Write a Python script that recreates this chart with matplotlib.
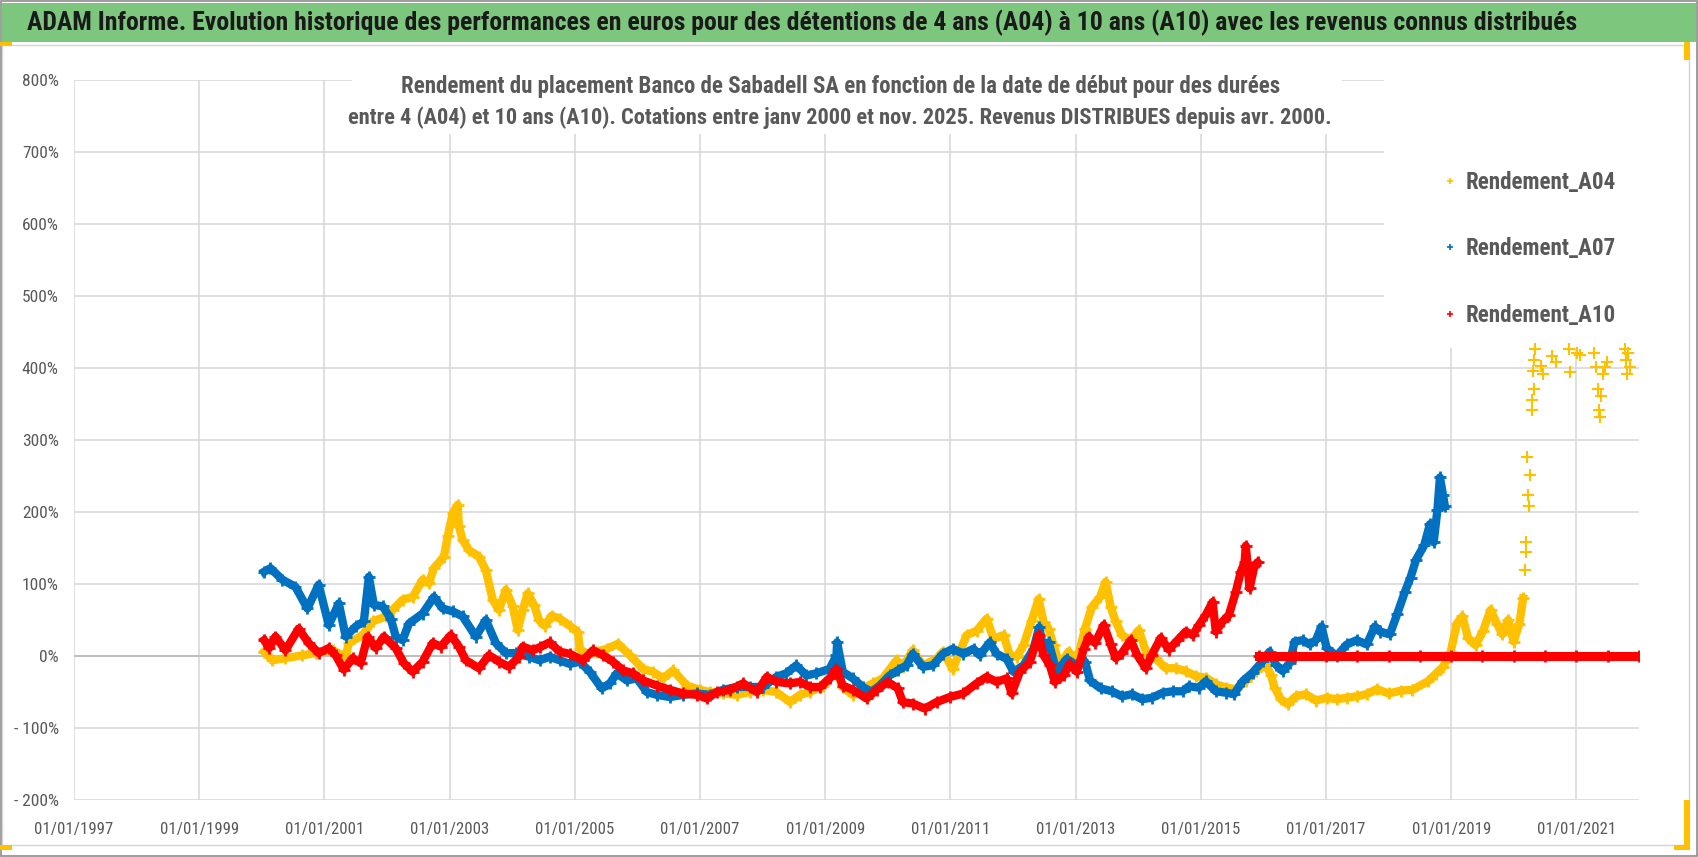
import numpy as np
import pandas as pd
import matplotlib
matplotlib.use('Agg')
import matplotlib.pyplot as plt
import matplotlib.dates as mdates
from matplotlib import font_manager
from matplotlib.patches import Rectangle
from matplotlib.lines import Line2D

# narrowest font we can find (the original uses Calibri)
installed = {f.name for f in font_manager.fontManager.ttflist}
for name in ['Liberation Sans Narrow', 'DejaVu Sans Condensed', 'Roboto Condensed', 'Open Sans Condensed',
             'Liberation Sans', 'DejaVu Sans']:
    if name in installed:
        break
plt.rcParams['font.family'] = [name, 'DejaVu Sans']

# ---- data (decimal year of start date, return in %) ----
a04_year = [2000.04, 2000.17, 2000.38, 2000.65, 2000.86, 2001.13, 2001.34, 2001.39, 2001.61, 2001.77,
            2001.98, 2002.09, 2002.25, 2002.41, 2002.57, 2002.67, 2002.75, 2002.91, 2002.97, 2003.05,
            2003.13, 2003.15, 2003.21, 2003.31, 2003.47, 2003.58, 2003.69, 2003.79, 2003.90, 2004.01,
            2004.09, 2004.17, 2004.25, 2004.35, 2004.43, 2004.52, 2004.63, 2004.76, 2004.92, 2005.05,
            2005.08, 2005.21, 2005.35, 2005.51, 2005.69, 2005.88, 2006.09, 2006.25, 2006.41, 2006.57,
            2006.79, 2007.00, 2007.16, 2007.37, 2007.59, 2007.80, 2008.01, 2008.22, 2008.44, 2008.60,
            2008.76, 2008.96, 2009.18, 2009.28, 2009.44, 2009.60, 2009.76, 2009.92, 2010.14, 2010.24,
            2010.40, 2010.56, 2010.78, 2010.88, 2011.04, 2011.26, 2011.42, 2011.58, 2011.69, 2011.85,
            2011.95, 2012.06, 2012.17, 2012.30, 2012.41, 2012.49, 2012.57, 2012.65, 2012.75, 2012.89,
            2013.02, 2013.15, 2013.26, 2013.39, 2013.48, 2013.56, 2013.64, 2013.74, 2013.88, 2014.01,
            2014.14, 2014.28, 2014.44, 2014.60, 2014.76, 2014.92, 2015.08, 2015.24, 2015.40, 2015.56,
            2015.72, 2015.88, 2016.04, 2016.12, 2016.18, 2016.28, 2016.39, 2016.52, 2016.68, 2016.84,
            2017.01, 2017.17, 2017.33, 2017.49, 2017.65, 2017.81, 2018.00, 2018.20, 2018.38, 2018.63,
            2018.75, 2018.87, 2018.99, 2019.09, 2019.18, 2019.27, 2019.39, 2019.51, 2019.63, 2019.73,
            2019.82, 2019.91, 2020.00, 2020.09, 2020.15]
a04_val = [6, -6, -3, 1, 4, 8, -1, 18, 29, 48,
           55, 64, 78, 82, 106, 101, 122, 138, 166, 198,
           210, 180, 161, 147, 138, 119, 78, 64, 92, 69,
           36, 64, 87, 71, 50, 42, 56, 52, 42, 33,
           10, 1, 6, 10, 17, 1, -18, -22, -31, -20,
           -41, -47, -50, -52, -54, -50, -47, -50, -64, -54,
           -50, -41, -22, -43, -54, -45, -38, -31, -6, -15,
           8, -13, -4, 6, -18, 29, 35, 52, 24, 29,
           1, -1, 15, 49, 79, 47, 38, 15, -13, 6,
           -8, 38, 68, 82, 103, 68, 48, 29, 22, 36,
           2, -3, -17, -17, -21, -28, -30, -39, -44, -46,
           -35, -21, -12, -26, -44, -60, -67, -56, -53, -62,
           -58, -60, -58, -56, -53, -46, -52, -48, -47, -35,
           -25, -15, 5, 45, 55, 25, 15, 35, 64, 45,
           30, 50, 20, 45, 80]

# isolated quotes of the last A04 start dates
a04_tail_year = [2020.18, 2020.20, 2020.20, 2020.21, 2020.23, 2020.24, 2020.26, 2020.29, 2020.30, 2020.31,
                 2020.32, 2020.32, 2020.34, 2020.43, 2020.46, 2020.61, 2020.67, 2020.88, 2020.90, 2021.01,
                 2021.05, 2021.28, 2021.31, 2021.34, 2021.36, 2021.37, 2021.40, 2021.43, 2021.46, 2021.49,
                 2021.77, 2021.79, 2021.81, 2021.83, 2021.86]
a04_tail_val = [119, 144, 158, 277, 223, 208, 252, 342, 356, 396,
                371, 411, 426, 403, 391, 416, 408, 426, 394, 421,
                418, 421, 401, 371, 342, 332, 361, 391, 401, 408,
                426, 411, 391, 421, 401]

a07_year = [2000.04, 2000.14, 2000.33, 2000.54, 2000.73, 2000.91, 2001.07, 2001.23, 2001.34, 2001.50,
            2001.63, 2001.71, 2001.79, 2001.93, 2002.06, 2002.14, 2002.25, 2002.35, 2002.57, 2002.75,
            2002.89, 2003.05, 2003.21, 2003.42, 2003.58, 2003.74, 2003.90, 2004.06, 2004.27, 2004.44,
            2004.60, 2004.76, 2004.92, 2005.08, 2005.24, 2005.43, 2005.56, 2005.67, 2005.83, 2005.99,
            2006.15, 2006.31, 2006.52, 2006.73, 2006.95, 2007.16, 2007.37, 2007.59, 2007.80, 2008.01,
            2008.22, 2008.38, 2008.54, 2008.70, 2008.86, 2009.07, 2009.18, 2009.19, 2009.28, 2009.44,
            2009.60, 2009.74, 2009.87, 2010.03, 2010.16, 2010.30, 2010.40, 2010.56, 2010.72, 2010.88,
            2011.04, 2011.21, 2011.37, 2011.47, 2011.63, 2011.74, 2011.90, 2012.01, 2012.17, 2012.33,
            2012.42, 2012.49, 2012.57, 2012.70, 2012.86, 2013.02, 2013.15, 2013.23, 2013.40, 2013.58,
            2013.74, 2013.90, 2014.06, 2014.22, 2014.39, 2014.55, 2014.71, 2014.81, 2014.97, 2015.08,
            2015.24, 2015.40, 2015.53, 2015.67, 2015.83, 2015.99, 2016.10, 2016.20, 2016.31, 2016.42,
            2016.50, 2016.63, 2016.74, 2016.84, 2016.93, 2017.01, 2017.17, 2017.33, 2017.49, 2017.65,
            2017.78, 2017.86, 2018.02, 2018.14, 2018.26, 2018.35, 2018.44, 2018.57, 2018.66, 2018.72,
            2018.78, 2018.82, 2018.87, 2018.90]
a07_val = [117, 122, 106, 96, 66, 99, 43, 73, 27, 41,
           48, 110, 71, 69, 52, 27, 22, 45, 59, 82,
           66, 62, 55, 27, 50, 18, 4, 4, -1, -6,
           -1, -6, -11, -8, -22, -45, -38, -24, -34, -31,
           -50, -54, -57, -54, -52, -54, -47, -43, -43, -43,
           -29, -24, -13, -27, -24, -18, 1, 19, -22, -31,
           -43, -50, -41, -27, -20, -13, 3, -15, -13, 3,
           10, 3, 10, 1, 19, 3, -4, -22, -13, 10,
           40, 10, 19, -22, -4, -13, -8, -34, -45, -49,
           -56, -53, -60, -58, -51, -49, -49, -42, -44, -35,
           -49, -51, -53, -35, -23, -7, 6, -12, -21, -10,
           20, 22, 16, 22, 41, 11, 0, 16, 22, 16,
           41, 34, 30, 59, 89, 109, 134, 154, 183, 158,
           203, 248, 223, 208]

a10_year = [2000.04, 2000.12, 2000.22, 2000.38, 2000.59, 2000.75, 2000.91, 2001.07, 2001.18, 2001.31,
            2001.45, 2001.58, 2001.69, 2001.82, 2001.95, 2002.14, 2002.27, 2002.41, 2002.57, 2002.73,
            2002.86, 2003.02, 2003.15, 2003.26, 2003.47, 2003.63, 2003.79, 2003.95, 2004.11, 2004.17,
            2004.33, 2004.44, 2004.60, 2004.76, 2004.92, 2005.13, 2005.29, 2005.45, 2005.61, 2005.77,
            2005.93, 2006.09, 2006.31, 2006.52, 2006.73, 2006.95, 2007.11, 2007.27, 2007.48, 2007.69,
            2007.91, 2008.07, 2008.22, 2008.44, 2008.60, 2008.76, 2008.92, 2009.07, 2009.18, 2009.28,
            2009.44, 2009.66, 2009.82, 2010.00, 2010.16, 2010.24, 2010.40, 2010.59, 2010.78, 2010.99,
            2011.21, 2011.42, 2011.58, 2011.74, 2011.90, 2011.98, 2012.11, 2012.27, 2012.41, 2012.49,
            2012.59, 2012.67, 2012.81, 2012.91, 2013.02, 2013.13, 2013.21, 2013.31, 2013.45, 2013.56,
            2013.64, 2013.74, 2013.88, 2013.98, 2014.12, 2014.22, 2014.36, 2014.49, 2014.63, 2014.76,
            2014.87, 2014.97, 2015.08, 2015.19, 2015.24, 2015.35, 2015.45, 2015.56, 2015.64, 2015.70,
            2015.72, 2015.78, 2015.86, 2015.91]
a10_val = [22, 11, 27, 8, 38, 18, 4, 11, 1, -19,
           -3, -10, 27, 11, 27, 11, -10, -22, -8, 18,
           13, 29, 13, -6, -17, 1, -8, -15, -1, 13,
           8, 12, 19, 6, 3, -6, 8, 1, -8, -20,
           -24, -34, -41, -47, -52, -54, -59, -50, -47, -38,
           -50, -29, -36, -38, -36, -43, -43, -31, -18, -41,
           -47, -59, -47, -36, -45, -64, -66, -73, -64, -57,
           -52, -38, -29, -36, -31, -52, -22, -8, 29, 1,
           -13, -36, -27, -11, -22, 10, 27, 18, 43, 16,
           -3, 4, 22, 2, -17, 2, 25, 9, 22, 34,
           29, 43, 57, 75, 34, 48, 57, 89, 117, 130,
           153, 94, 126, 130]

# A10 shows 0 for start dates with no 10-year horizon yet
a10_zero_year = [2015.93, 2016.5, 2017.0, 2017.5, 2018.0, 2018.5, 2019.0, 2019.5, 2020.0, 2020.5, 2021.0, 2021.5, 2022.0]
a10_zero_val = [0] * len(a10_zero_year)

y_ticks = [800, 700, 600, 500, 400, 300, 200, 100, 0, -100, -200]
y_labels = ['800%', '700%', '600%', '500%', '400%', '300%', '200%', '100%', '0%', '- 100%', '- 200%']
x_tick_years = list(range(1997, 2022, 2))

title = "ADAM Informe. Evolution historique des performances en euros pour des détentions de 4 ans (A04) à 10 ans (A10) avec les revenus connus distribués"
sub1 = "Rendement du placement Banco de Sabadell SA en fonction de la date de début pour des durées"
sub2 = "entre 4 (A04) et 10 ans (A10). Cotations entre janv 2000 et nov. 2025. Revenus DISTRIBUES depuis avr. 2000."
leg_labels = ['Rendement_A04', 'Rendement_A07', 'Rendement_A10']

C_A04 = '#FFC000'
C_A07 = '#0070C0'
C_A10 = '#FF0000'
GRAY = '#595959'


def to_dates(years):
    v = np.asarray(years, dtype=float)
    y = np.floor(v).astype(int)
    d = pd.to_datetime([f'{a}-01-01' for a in y]) + pd.to_timedelta((v - y) * 365.25, unit='D')
    return d


W, H = 1698, 857
fig = plt.figure(figsize=(W / 100, H / 100), dpi=100)


def fig_rect(x, y, w, h, **kw):
    # pixel box (from top-left) -> figure fraction
    return Rectangle((x / W, 1 - (y + h) / H), w / W, h / H, transform=fig.transFigure, **kw)


# frame, title band, selection handles
fig.add_artist(fig_rect(1, 1, W - 2, H - 2, fill=False, ec='#8c8c8c', lw=1.2))
fig.add_artist(fig_rect(2, 3, W - 4, 39, fc='#7DC67E', ec='none'))
fig.add_artist(fig_rect(2, 45, 1687, 800, fill=False, ec='#d4d4d4', lw=1.0))
for (x, y, w, h) in [(0, 42, 12, 4), (0, 845, 12, 5), (1684, 42, 6, 18), (1684, 800, 6, 50), (1674, 845, 16, 5)]:
    fig.add_artist(fig_rect(x, y, w, h, fc='#FFC000', ec='none'))

ax = fig.add_axes([74 / W, 1 - 800 / H, (1639 - 74) / W, 720 / H])
ax.set_axisbelow(True)

kw = dict(marker='+', ms=9, mew=2.0, lw=6, solid_joinstyle='round')
ax.plot(to_dates(a04_year), a04_val, color=C_A04, **kw)
ax.plot(to_dates(a04_tail_year), a04_tail_val, color=C_A04, ls='none', marker='+', ms=8, mew=1.5)
ax.plot(to_dates(a07_year), a07_val, color=C_A07, **kw)
ax.plot(to_dates(a10_year), a10_val, color=C_A10, **kw)
ax.plot(to_dates(a10_zero_year), a10_zero_val, color=C_A10, marker='+', ms=9, mew=2.0, lw=6.5)

ax.set_xlim(pd.Timestamp('1997-01-01'), pd.Timestamp('2022-01-01'))
ax.set_ylim(-200, 800)
ax.set_yticks(y_ticks)
ax.set_yticklabels(y_labels)
ax.set_xticks([pd.Timestamp(f'{y}-01-01') for y in x_tick_years])
ax.xaxis.set_major_formatter(mdates.DateFormatter('%d/%m/%Y'))
ax.grid(True, color='#d9d9d9', lw=1.2)
ax.axhline(0, color='#bfbfbf', lw=1.4, zorder=0.6)
for s in ax.spines.values():
    s.set_visible(False)
ax.tick_params(length=0, colors=GRAY, labelsize=12)
ax.tick_params(axis='y', pad=11)
ax.tick_params(axis='x', pad=16)

# white boxes of the chart title and legend over the grid
ax.add_patch(fig_rect(352, 78, 990, 56, fc='white', ec='none', zorder=1))
ax.add_patch(fig_rect(1384, 78, 256, 270, fc='white', ec='none', zorder=1))

t0 = fig.text(802 / W, 1 - 23 / H, title, ha='center', va='center', fontsize=18, weight='bold', color='#1a1a1a')
t1 = fig.text(841 / W, 1 - 87 / H, sub1, ha='center', va='center', fontsize=14, weight='bold', color=GRAY)
t2 = fig.text(840 / W, 1 - 118 / H, sub2, ha='center', va='center', fontsize=14, weight='bold', color=GRAY)

fig.canvas.draw()
r = fig.canvas.get_renderer()
for t, wpx in [(t0, 1551), (t1, 880), (t2, 986)]:
    t.set_fontsize(t.get_fontsize() * wpx / t.get_window_extent(r).width)

# tick label sizes matched to the reference widths
xl = ax.get_xticklabels()[0]
xs = 12 * 78 / xl.get_window_extent(r).width
yl = ax.get_yticklabels()[-1]
ys = 12 * 45 / yl.get_window_extent(r).width
ax.tick_params(axis='x', labelsize=xs)
ax.tick_params(axis='y', labelsize=ys)

probe = fig.text(0, 0, leg_labels[0], fontsize=17, weight='bold')
lsize = 17 * 150 / probe.get_window_extent(r).width
probe.remove()

handles = [Line2D([], [], color=c, ls='none', marker='+', ms=5, mew=1.2) for c in (C_A04, C_A07, C_A10)]
fig.legend(handles, leg_labels, loc='center left', bbox_to_anchor=(1422 / W, 1 - 249 / H), frameon=False,
           labelcolor=GRAY, prop=dict(weight='bold', size=lsize), handlelength=0.6, handletextpad=0.4,
           labelspacing=66 / (lsize * 100 / 72) - 1.0)

fig.savefig('out.png', dpi=100, facecolor='white')
